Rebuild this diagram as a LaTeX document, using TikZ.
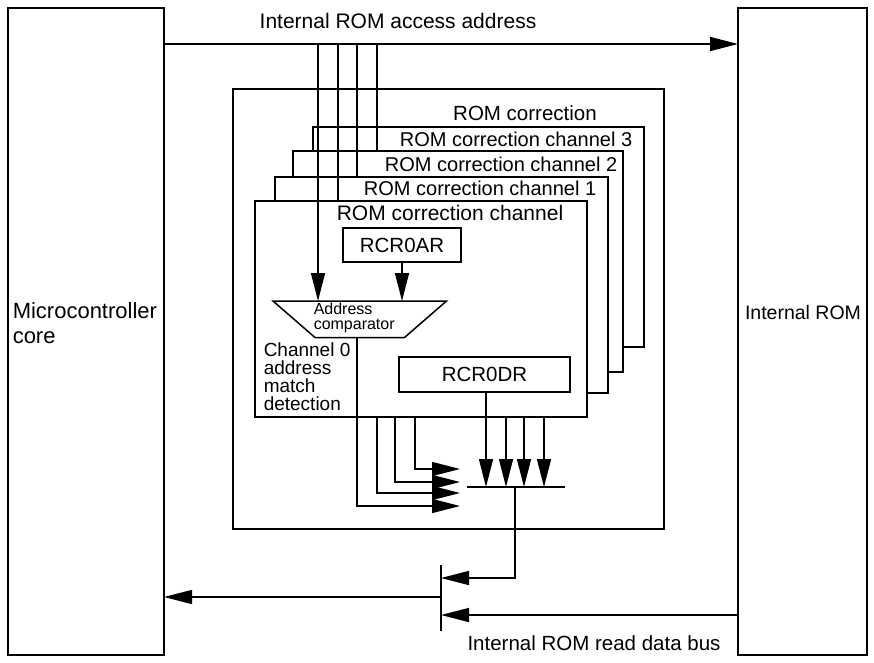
\documentclass[tikz,border=0pt]{standalone}
\usepackage{fontspec}
\setmainfont{Liberation Sans}
\usetikzlibrary{arrows.meta}
\begin{document}
\begin{tikzpicture}[x=1pt,y=-1pt,
  line width=1.5pt,
  blk/.style={draw, fill=white, inner sep=0pt, outer sep=0pt, anchor=north west},
  arr/.style={-{Triangle[length=28pt,width=14pt]}},
  lbl/.style={inner sep=0pt, font=\fontsize{20.5}{22}\selectfont},
  small/.style={inner sep=0pt, align=left, font=\fontsize{19}{18}\selectfont},
]
\useasboundingbox (0,0) rectangle (874,662);

% main blocks
\node[blk, minimum width=156pt, minimum height=647pt] (core) at (8,8) {};
\node[blk, minimum width=129pt, minimum height=647pt] (rom) at (738,8) {};
\node[lbl, anchor=north west, align=left, font=\fontsize{22}{25}\selectfont] (coretxt) at (12,302) {Microcontroller\\core};
\node[lbl, anchor=base, font=\fontsize{19.5}{22}\selectfont] (romtxt) at (803,319) {Internal ROM};

% ROM correction unit with stacked channels
\node[blk, minimum width=431pt, minimum height=440pt] (corr) at (233,89) {};
\node[blk, minimum width=331pt, minimum height=220pt] (ch3) at (313,127) {};
\node[blk, minimum width=330pt, minimum height=221pt] (ch2) at (293,151) {};
\node[blk, minimum width=333pt, minimum height=216pt] (ch1) at (275,177) {};
\node[blk, minimum width=332pt, minimum height=216pt] (ch0) at (255,201) {};

\node[lbl] (corrtxt) at (525,113) {ROM correction};
\node[lbl, anchor=east, font=\fontsize{20}{22}\selectfont] (ch3txt) at (633,139) {ROM correction channel 3};
\node[lbl, anchor=east, font=\fontsize{20}{22}\selectfont] (ch2txt) at (618,164) {ROM correction channel 2};
\node[lbl, anchor=east, font=\fontsize{20}{22}\selectfont] (ch1txt) at (597,188) {ROM correction channel 1};
\node[lbl, font=\fontsize{21}{22}\selectfont] (ch0txt) at (450,213) {ROM correction channel};

% registers
\node[blk, lbl, draw, minimum width=118pt, minimum height=34pt] (ar) at (343,228) {RCR0AR};
\node[blk, lbl, draw, minimum width=171pt, minimum height=35pt] (dr) at (399,357) {RCR0DR};

% address comparator
\node[inner sep=0pt, minimum width=172pt, minimum height=35pt, anchor=north west] (cmp) at (273,301) {};
\draw (cmp.north west) -- (cmp.north east) -- ([xshift=-42pt]cmp.south east)
      -- ([xshift=42pt]cmp.south west) -- cycle;
\node[inner sep=0pt, align=left, anchor=west, font=\fontsize{16}{15.5}\selectfont] (cmptxt) at (313,318) {Address\\comparator};

\node[small, anchor=north west] (matchtxt) at (263,342) {Channel 0\\address\\match\\detection};

% internal ROM access address bus
\coordinate (a0) at (318,44);
\coordinate (a1) at (338,44);
\coordinate (a2) at (357,44);
\coordinate (a3) at (377,44);
\node[lbl, anchor=base, font=\fontsize{21}{22}\selectfont] (addrtxt) at (398,28) {Internal ROM access address};
\draw[arr] (core.east |- a0) -- (rom.west |- a0);
\draw (a1) -- (a1 |- ch0.north);
\draw (a2) -- (a2 |- ch1.north);
\draw (a3) -- (a3 |- ch2.north);
\draw[arr] (a0) -- (a0 |- cmp.north);
\draw[arr] (ar.south) -- (ar.south |- cmp.north);

% data selector
\node[inner sep=0pt, minimum width=96pt, anchor=west] (mux) at (467,487) {};
\draw (mux.west) -- (mux.east);

% match signals to the selector
\coordinate (s0) at (357,0);
\coordinate (s1) at (377,0);
\coordinate (s2) at (395,0);
\coordinate (s3) at (415,0);
\coordinate (tip) at (460,0);
\draw[arr] (s0 |- cmp.south) |- (tip |- 0,506);
\draw[arr] (s1 |- ch0.south) |- (tip |- 0,493);
\draw[arr] (s2 |- ch0.south) |- (tip |- 0,482);
\draw[arr] (s3 |- ch0.south) |- (tip |- 0,469);

% correction data to the selector
\coordinate (d0) at (486,0);
\coordinate (d1) at (506,0);
\coordinate (d2) at (524,0);
\coordinate (d3) at (544,0);
\draw[arr] (d0 |- dr.south) -- (d0 |- mux);
\draw[arr] (d1 |- ch0.south) -- (d1 |- mux);
\draw[arr] (d2 |- ch0.south) -- (d2 |- mux);
\draw[arr] (d3 |- ch0.south) -- (d3 |- mux);

% read data bus
\node[inner sep=0pt, minimum height=64pt, anchor=north] (bar) at (441,565) {};
\draw (bar.north) -- (bar.south);
\coordinate (mo) at (515,0);
\draw[arr] (mo |- mux) |- (bar.center |- 0,578);
\draw[arr] (bar.center |- 0,597) -- (core.east |- 0,597);
\draw[arr] (rom.west |- 0,615) -- (bar.center |- 0,615);
\node[lbl, anchor=base] (bustxt) at (594,650) {Internal ROM read data bus};
\end{tikzpicture}
\end{document}
